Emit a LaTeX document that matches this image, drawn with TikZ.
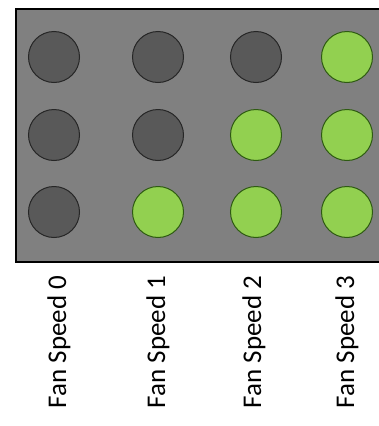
\documentclass[tikz,border=0pt]{standalone}
\usepackage{fontspec}
\setmainfont{Carlito}
\definecolor{panelgray}{HTML}{808080}
\definecolor{offgray}{HTML}{595959}
\definecolor{ongreen}{HTML}{92D050}
\definecolor{ondark}{HTML}{2E5A12}
\begin{document}
\begin{tikzpicture}[x=1pt,y=-1pt,
  led/.style={circle,minimum size=51pt,inner sep=0pt,line width=1pt},
  ledoff/.style={led,draw=black!85,fill=offgray},
  ledon/.style={led,draw=ondark,fill=ongreen},
  lbl/.style={rotate=90,font=\fontsize{27}{32}\selectfont,inner sep=0pt}]
\useasboundingbox (0,0) rectangle (379,426);
\clip (0,0) rectangle (379,426);
\draw[line width=1.5pt,fill=panelgray] (16,9) rectangle (390,262);
\node[ledoff] (a1) at (54,57) {};
\node[ledoff] (a2) at (54,135) {};
\node[ledoff] (a3) at (54,212) {};
\node[ledoff] (b1) at (158,57) {};
\node[ledoff] (b2) at (158,135) {};
\node[ledon]  (b3) at (158,212) {};
\node[ledoff] (d1) at (256,57) {};
\node[ledon]  (d2) at (256,135) {};
\node[ledon]  (d3) at (256,212) {};
\node[ledon]  (e1) at (347,57) {};
\node[ledon]  (e2) at (347,135) {};
\node[ledon]  (e3) at (347,212) {};
\node[lbl] (l0) at (59,342) {Fan Speed 0};
\node[lbl] (l1) at (158,342) {Fan Speed 1};
\node[lbl] (l2) at (254,342) {Fan Speed 2};
\node[lbl] (l3) at (347,342) {Fan Speed 3};
\end{tikzpicture}
\end{document}
